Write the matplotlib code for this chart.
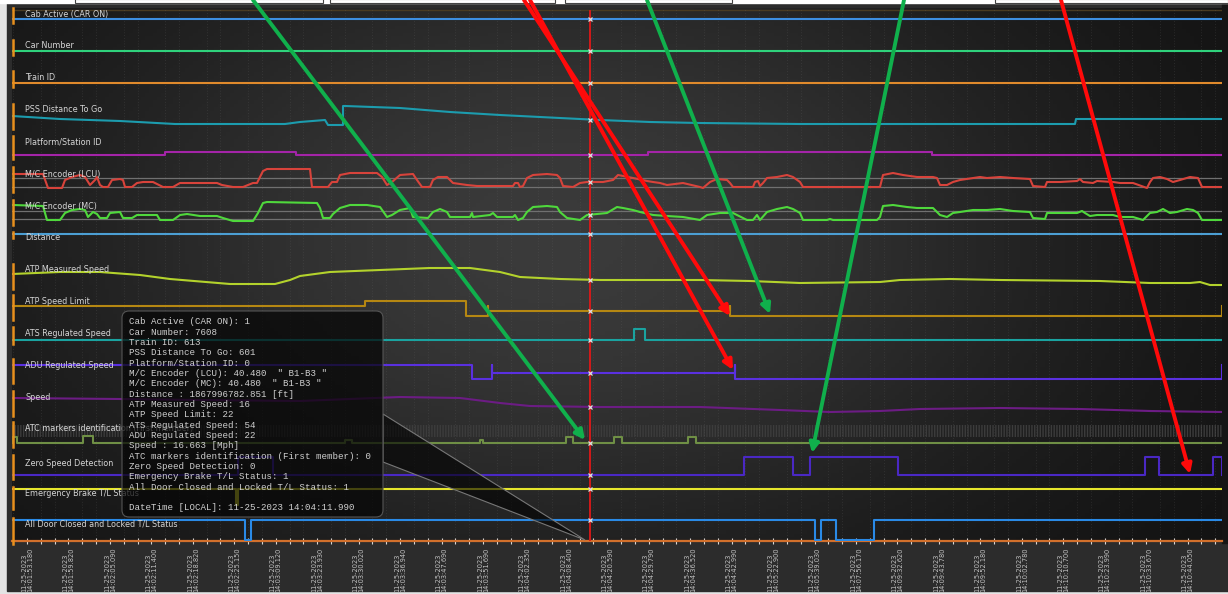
import numpy as np
import matplotlib.pyplot as plt
from matplotlib.patches import Rectangle, FancyBboxPatch, Polygon

# ---- data (x = sample index, y = lane position, screen-like, grows downward) ----
time_labels = ["14:01:53.180", "14:01:59.820", "14:02:05.090", "14:02:11.400", "14:02:18.820",
               "14:02:25.150", "14:03:09.120", "14:03:23.930", "14:03:30.020", "14:03:36.940",
               "14:03:47.690", "14:03:51.690", "14:04:02.350", "14:04:08.400", "14:04:20.590",
               "14:04:29.790", "14:04:36.520", "14:04:42.990", "14:05:22.900", "14:05:39.030",
               "14:07:56.170", "14:09:32.620", "14:09:43.780", "14:09:52.180", "14:10:02.780",
               "14:10:10.700", "14:10:23.990", "14:10:33.670", "14:10:44.050"]
date_label = "11-25-2023"
first_tick, tick_step = 27, 41.45
x_start, x_end = 12, 1222

channel_names = ["Cab Active (CAR ON)", "Car Number", "Train ID", "PSS Distance To Go",
                 "Platform/Station ID", "M/C Encoder (LCU)", "M/C Encoder (MC)", "Distance",
                 "ATP Measured Speed", "ATP Speed Limit", "ATS Regulated Speed",
                 "ADU Regulated Speed", "Speed", "ATC markers identification (First member)",
                 "Zero Speed Detection", "Emergency Brake T/L Status",
                 "All Door Closed and Locked T/L Status"]
label_rows = [14, 46, 77, 110, 142, 174, 206, 238, 270, 301, 333, 365, 397, 428, 463, 493, 524]
colors = ["#3d8ee0", "#2fd27c", "#e08a2c", "#1c9cae", "#a424a8", "#d8433b", "#4fd83c", "#4c9fd4",
          "#b3d22c", "#b58712", "#1aa3a0", "#5a30e0", "#6c1c84", "#6f8f45", "#4a28c4",
          "#e6e62c", "#2a8ae6"]

# step channels: base level, (start, stop, level) pulses
cab_base, car_base, train_base, dist_base = 19, 51, 83, 234
platform_base, platform_pulses = 155, [(165, 296, 152), (648, 932, 152)]
ats_base, ats_pulses = 340, [(634, 645, 329)]
adu_base, adu_pulses = 365, [(472, 492, 379), (492, 735, 373), (735, 1222, 379)]
limit_base, limit_pulses = 306, [(365, 466, 301), (466, 488, 316), (488, 730, 311), (730, 1222, 316)]
atc_base, atc_pulses = 443, [(12, 17, 437), (83, 93, 436), (345, 352, 440), (480, 483, 440),
                             (566, 573, 437), (614, 622, 437), (688, 696, 437)]
zero_base, zero_pulses = 475, [(238, 273, 457), (744, 793, 457), (810, 898, 457),
                               (1145, 1159, 457), (1213, 1222, 457)]
brake_base, brake_pulses = 489, [(236, 238, 505)]
door_base, door_pulses = 520, [(245, 251, 540), (815, 821, 540), (836, 874, 540)]

pss_x = [12, 60, 120, 175, 230, 285, 300, 325, 328, 343, 343, 345, 400, 450, 500, 560, 600,
         650, 700, 800, 900, 1000, 1075, 1076, 1222]
pss_y = [116, 119, 121, 124, 124, 124, 122, 120, 125, 125, 106, 106, 108, 112, 115, 118, 120,
         122, 123, 124, 124, 124, 124, 119, 119]

meas_x = [12, 60, 100, 140, 170, 230, 275, 290, 300, 330, 380, 430, 470, 500, 520, 560, 600,
          700, 750, 800, 880, 900, 950, 1000, 1100, 1150, 1190, 1200, 1210, 1222]
meas_y = [274, 272, 272, 275, 279, 284, 284, 280, 276, 272, 270, 268, 268, 272, 277, 279, 280,
          280, 281, 283, 282, 280, 279, 280, 281, 283, 283, 282, 285, 285]

speed_x = [12, 120, 200, 300, 400, 460, 500, 530, 600, 700, 780, 830, 880, 920, 1000, 1080, 1150, 1222]
speed_y = [398, 399, 400, 401, 397, 398, 403, 406, 407, 407, 410, 412, 411, 409, 408, 409, 411, 412]

lcu_x = [13, 43, 48, 62, 65, 72, 80, 85, 90, 95, 97, 100, 103, 108, 112, 120, 123, 125, 132, 137,
         143, 153, 157, 163, 173, 180, 187, 200, 217, 222, 233, 243, 253, 257, 263, 267, 310, 312,
         328, 332, 337, 340, 350, 377, 382, 387, 392, 400, 413, 417, 422, 430, 433, 438, 447, 450,
         453, 467, 477, 513, 515, 518, 520, 523, 527, 533, 547, 557, 560, 563, 573, 580, 587, 603,
         613, 618, 623, 633, 647, 653, 660, 667, 683, 700, 703, 710, 717, 727, 730, 733, 753, 755,
         758, 760, 763, 767, 777, 787, 793, 800, 803, 880, 883, 893, 903, 917, 933, 937, 940, 947,
         953, 960, 973, 980, 987, 1000, 1013, 1030, 1033, 1045, 1047, 1060, 1077, 1080, 1083, 1093,
         1097, 1113, 1120, 1133, 1147, 1150, 1153, 1160, 1167, 1173, 1180, 1190, 1198, 1202, 1222]
lcu_y = [174, 174, 188, 188, 180, 177, 175, 177, 185, 180, 177, 185, 187, 187, 180, 179, 180, 187,
         187, 183, 182, 182, 184, 187, 187, 183, 183, 183, 183, 185, 187, 187, 183, 183, 171, 169,
         169, 187, 187, 182, 182, 175, 173, 173, 177, 185, 182, 175, 174, 180, 187, 187, 180, 177,
         177, 180, 183, 185, 186, 186, 183, 183, 187, 186, 178, 175, 174, 175, 178, 186, 187, 183,
         182, 182, 180, 175, 176, 178, 181, 182, 183, 185, 183, 187, 188, 182, 179, 180, 183, 187,
         187, 182, 181, 186, 183, 178, 177, 175, 177, 182, 187, 187, 175, 173, 175, 177, 177, 178,
         185, 185, 182, 180, 178, 177, 178, 177, 178, 179, 186, 187, 182, 182, 181, 179, 182, 183,
         181, 182, 183, 183, 188, 182, 178, 177, 179, 182, 180, 177, 178, 187, 187]

mc_x = [13, 43, 47, 60, 65, 72, 80, 85, 88, 93, 97, 100, 107, 110, 120, 123, 132, 137, 157, 160,
        173, 180, 187, 200, 217, 223, 233, 253, 258, 263, 267, 317, 320, 323, 330, 333, 340, 350,
        367, 380, 387, 392, 400, 410, 413, 428, 433, 440, 447, 450, 470, 472, 473, 490, 493, 497,
        513, 515, 518, 523, 527, 533, 547, 557, 560, 567, 580, 587, 607, 617, 623, 633, 640, 653,
        667, 683, 700, 707, 720, 733, 747, 753, 757, 760, 767, 777, 787, 793, 800, 803, 827, 830,
        833, 877, 880, 883, 893, 907, 917, 933, 940, 947, 953, 960, 973, 987, 1000, 1013, 1030,
        1033, 1045, 1047, 1067, 1077, 1082, 1085, 1090, 1097, 1113, 1120, 1133, 1143, 1150, 1157,
        1163, 1170, 1177, 1187, 1193, 1198, 1202, 1222]
mc_y = [205, 206, 220, 220, 213, 210, 209, 210, 217, 212, 214, 218, 218, 213, 212, 218, 218, 215,
        215, 220, 220, 215, 214, 216, 216, 218, 221, 221, 213, 203, 202, 203, 208, 218, 218, 214,
        208, 205, 205, 207, 217, 215, 210, 208, 217, 218, 212, 209, 212, 217, 217, 213, 217, 215,
        213, 217, 217, 215, 220, 218, 212, 207, 206, 207, 212, 218, 220, 215, 213, 207, 208, 210,
        212, 215, 216, 217, 220, 215, 213, 213, 220, 220, 215, 220, 212, 209, 207, 209, 213, 220,
        220, 219, 220, 220, 217, 206, 205, 207, 208, 208, 215, 217, 213, 212, 210, 210, 209, 211,
        212, 218, 219, 213, 213, 213, 211, 213, 216, 215, 215, 217, 217, 220, 213, 212, 209, 213,
        212, 209, 210, 213, 220, 220]
lcu_refs, mc_refs = [178, 187], [211, 219]

cursor_x = 590
tooltip_lines = ["Cab Active (CAR ON): 1", "Car Number: 7608", "Train ID: 613",
                 "PSS Distance To Go: 601", "Platform/Station ID: 0",
                 'M/C Encoder (LCU): 40.480  " B1-B3 "', 'M/C Encoder (MC): 40.480  " B1-B3 "',
                 "Distance : 1867996782.851 [ft]", "ATP Measured Speed: 16",
                 "ATP Speed Limit: 22", "ATS Regulated Speed: 54", "ADU Regulated Speed: 22",
                 "Speed : 16.663 [Mph]", "ATC markers identification (First member): 0",
                 "Zero Speed Detection: 0", "Emergency Brake T/L Status: 1",
                 "All Door Closed and Locked T/L Status: 1", "",
                 "DateTime [LOCAL]: 11-25-2023 14:04:11.990"]

# annotation arrows drawn on the screenshot: (start, end, colour)
arrows = [((253, 0), (585, 440), "#10b04c"), ((524, 0), (730, 316), "#ff0a0a"),
          ((530, 0), (733, 370), "#ff0a0a"), ((647, 0), (770, 314), "#10b04c"),
          ((904, 0), (812, 453), "#10b04c"), ((1061, 0), (1190, 474), "#ff0a0a")]


def steps(base, pulses=()):
    xs, ys = [x_start], [base]
    level = base
    for a, b, lv in pulses:
        xs += [a, a, b, b]
        ys += [level, lv, lv, base]
    xs.append(x_end)
    ys.append(base)
    return xs, ys


traces = [steps(cab_base), steps(car_base), steps(train_base), (pss_x, pss_y),
          steps(platform_base, platform_pulses), (lcu_x, lcu_y), (mc_x, mc_y),
          steps(dist_base), (meas_x, meas_y), steps(limit_base, limit_pulses),
          steps(ats_base, ats_pulses), steps(adu_base, adu_pulses), (speed_x, speed_y),
          steps(atc_base, atc_pulses), steps(zero_base, zero_pulses),
          steps(brake_base, brake_pulses), steps(door_base, door_pulses)]

W, H = 1228, 594
fig = plt.figure(figsize=(W / 100, H / 100), dpi=100)
fig.patch.set_facecolor("#e4e4e4")

# backdrop frame
bg = fig.add_axes([0, 0, 1, 1], zorder=0)
bg.set_xlim(0, W)
bg.set_ylim(H, 0)
bg.axis("off")
bg.add_patch(Rectangle((7, 3), W - 7, H - 6, color="#2c2c2c"))
bg.add_patch(Rectangle((x_end, 3), W - x_end, 540, color="#151515"))
bg.add_patch(Rectangle((0, 0), W, 3, color="white"))
for a, b in [(75, 323), (330, 555), (565, 732), (995, 1228)]:
    bg.add_patch(Rectangle((a, -1), b - a, 4, fc="white", ec="#444", lw=0.8))

ax = fig.add_axes([x_start / W, (H - 541) / H, (x_end - x_start) / W, 533 / H], zorder=1)
ax.set_xlim(x_start, x_end)
ax.set_ylim(541, 8)

# radial background shading
gx, gy = np.meshgrid(np.linspace(x_start, x_end, 300), np.linspace(8, 541, 150))
shade = 0.06 + 0.17 * np.exp(-(((gx - 560) / 520) ** 2 + ((gy - 240) / 330) ** 2))
ax.imshow(np.dstack([shade] * 3), extent=(x_start, x_end, 541, 8), aspect="auto", zorder=0)

for s in ["top", "right", "left"]:
    ax.spines[s].set_visible(False)
ax.spines["bottom"].set_color("#d2702c")
ax.spines["bottom"].set_linewidth(1.6)

ticks = first_tick + tick_step * np.arange(len(time_labels))
ax.set_xticks(ticks)
ax.set_xticks(np.arange(first_tick - tick_step / 3, x_end, tick_step / 3), minor=True)
ax.set_xticklabels([date_label + "\n" + t for t in time_labels], rotation=90,
                   fontsize=4.8, color="#c2c2c2", family=["Liberation Sans Narrow", "DejaVu Sans"],
                   linespacing=1.0)
for t in ax.get_xticklabels():
    t.set_multialignment("left")
ax.tick_params(axis="x", which="both", direction="inout", length=5, width=0.8,
               color="#d8d8d8", pad=2)
ax.set_yticks([])
ax.grid(which="minor", axis="x", color="#6a6a6a", lw=0.5, ls=(0, (1, 3)), alpha=0.45)
ax.axhline(10, color="#4a3b22", lw=1, zorder=1)

# dense hatch band above ATC lane
ax.add_patch(Rectangle((x_start, 425), x_end - x_start, 12, fc="none", ec="#3c3c3c",
                       hatch="||||||", lw=0, zorder=1))

for r in lcu_refs + mc_refs:
    ax.axhline(r, color="#707070", lw=0.9, zorder=2)

for (xs, ys), c in zip(traces, colors):
    ax.plot(xs, ys, color=c, lw=1.5, zorder=3)

# left lane markers
for lr, (xs, ys) in zip(label_rows, traces):
    lo, hi = min(lr - 6, min(ys) - 2), max(ys) + 4
    ax.plot([x_start + 1, x_start + 1], [lo, hi], color="#e8901e", lw=1.8, zorder=4, clip_on=False)

for name, lr in zip(channel_names, label_rows):
    ax.text(25, lr, name, fontsize=5.8, color="#d6d6d6", va="center", ha="left", zorder=5)

# cursor
ax.axvline(cursor_x, ymin=0, ymax=0.995, color="#e01818", lw=1.3, zorder=6)
for xs, ys in traces:
    ax.plot(cursor_x, np.interp(cursor_x, xs, ys), marker="x", ms=3, mew=0.9,
            color="#e0e0e0", zorder=7)

# tooltip
ax.add_patch(Polygon([(383, 414), (383, 462), (585, 540)], closed=True,
                     fc=(0, 0, 0, 0.6), ec="#777777", lw=0.8, zorder=8))
ax.add_patch(FancyBboxPatch((122, 311), 261, 206, boxstyle="round,pad=0,rounding_size=7",
                            fc=(0.02, 0.02, 0.02, 0.72), ec="#555555", lw=0.8, zorder=8))
for i, line in enumerate(tooltip_lines):
    ax.text(129, 322 + i * 10.33, line, fontsize=6.6, color="#cfcfcf", va="center",
            family="Liberation Mono", zorder=9)

for (x0, y0), (x1, y1), c in arrows:
    ax.annotate("", xy=(x1, y1), xytext=(x0, y0), zorder=10, annotation_clip=False,
                arrowprops=dict(arrowstyle="-|>", color=c, lw=2.8, mutation_scale=14,
                                shrinkA=0, shrinkB=0))

fig.savefig("out.png", dpi=100, facecolor=fig.get_facecolor())
